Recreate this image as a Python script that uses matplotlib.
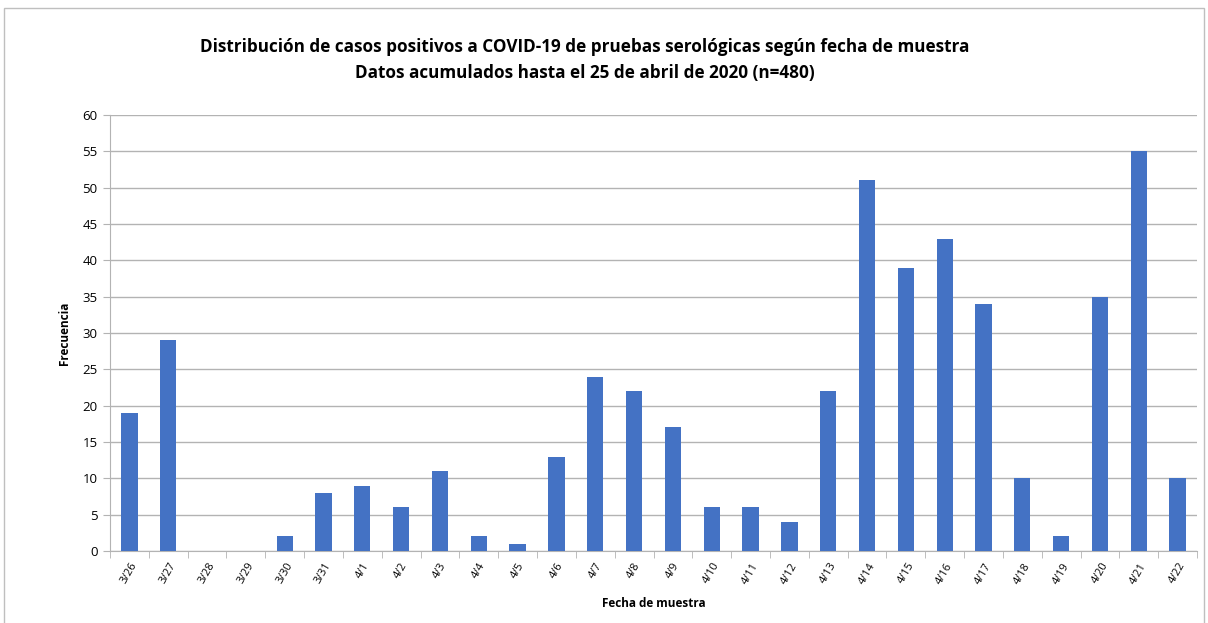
import matplotlib
matplotlib.use("Agg")
import matplotlib.pyplot as plt
from matplotlib.patches import Rectangle

categories = ["3/26", "3/27", "3/28", "3/29", "3/30", "3/31", "4/1", "4/2", "4/3", "4/4",
              "4/5", "4/6", "4/7", "4/8", "4/9", "4/10", "4/11", "4/12", "4/13", "4/14",
              "4/15", "4/16", "4/17", "4/18", "4/19", "4/20", "4/21", "4/22"]
values = [19, 29, 0, 0, 2, 8, 9, 6, 11, 2, 1, 13, 24, 22, 17, 6, 6, 4, 22, 51,
          39, 43, 34, 10, 2, 35, 55, 10]
yticks = list(range(0, 61, 5))

plt.rcParams['font.family'] = ['Open Sans', 'DejaVu Sans']

fig = plt.figure(figsize=(12.08, 6.23), dpi=100)
fig.patches.append(Rectangle((4/1208, -0.01), 1200/1208, 1 - 8/623 + 0.01,
                             transform=fig.transFigure, fill=False,
                             edgecolor='#bfbfbf', linewidth=1.0, zorder=0))
ax = fig.add_axes([110/1208, 1 - 551/623, (1197-110)/1208, (551-115)/623])

x = list(range(len(categories)))
ax.bar(x, values, width=0.42, color='#4472c4', zorder=3)
ax.set_xlim(-0.5, len(categories) - 0.5)
ax.set_ylim(0, 60)
ax.set_yticks(yticks)
ax.set_yticklabels([str(v) for v in yticks], fontsize=9.5)
ax.yaxis.grid(True, color='#b3b3b3', linewidth=1.0, zorder=0)
ax.set_axisbelow(True)

ax.set_xticks(x)
ax.set_xticklabels(categories, rotation=60, fontsize=7.8, ha='center', va='top',
                   rotation_mode='default')
ax.tick_params(axis='x', length=0, pad=7)
ax.set_xticks([i - 0.5 for i in range(len(categories) + 1)], minor=True)
ax.tick_params(axis='x', which='minor', length=5, color='#b3b3b3', direction='out')
ax.tick_params(axis='y', length=5, color='#b3b3b3', direction='out', pad=4)

for s in ['top', 'right']:
    ax.spines[s].set_visible(False)
ax.spines['left'].set_color('#b3b3b3')
ax.spines['bottom'].set_color('#b3b3b3')

ax.set_ylabel('Frecuencia', fontsize=8.5, fontweight='bold', labelpad=8)
ax.set_xlabel('Fecha de muestra', fontsize=8.5, fontweight='bold', labelpad=8)

fig.text(585/1208, 1 - 47/623,
         'Distribución de casos positivos a COVID-19 de pruebas serológicas según fecha de muestra',
         ha='center', va='center', fontsize=12.3, fontweight='bold')
fig.text(585/1208, 1 - 73/623,
         'Datos acumulados hasta el 25 de abril de 2020 (n=480)',
         ha='center', va='center', fontsize=12.3, fontweight='bold')

fig.savefig('out.png', dpi=100)
